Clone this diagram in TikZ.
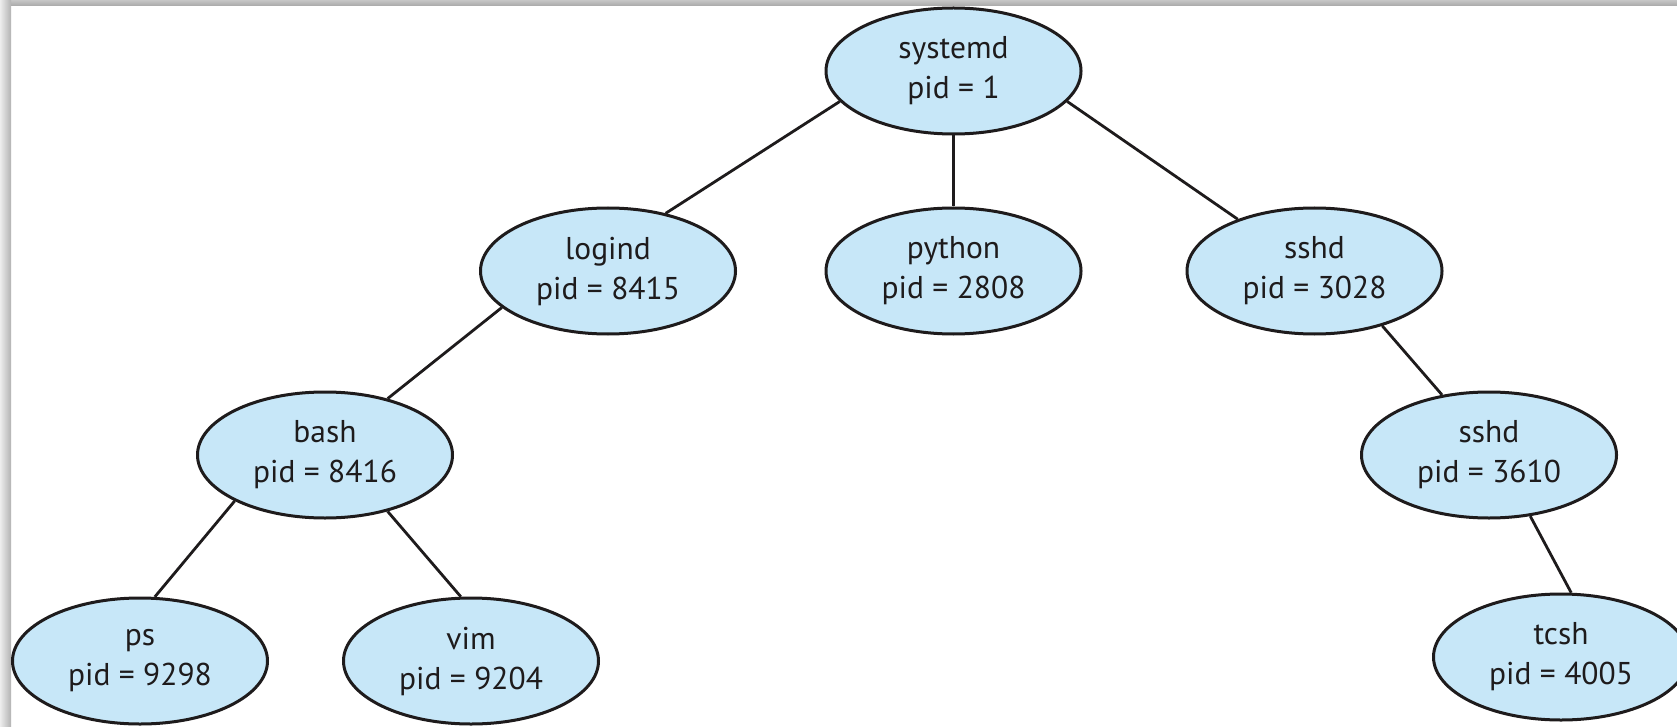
\documentclass[tikz,border=0pt]{standalone}
\usepackage{fontspec}
\setmainfont{PT Sans}
\usetikzlibrary{shapes.geometric}
\definecolor{procfill}{RGB}{199,231,248}
\definecolor{ink}{RGB}{30,27,28}
\tikzset{
  proc/.style={ellipse, draw=ink, line width=3pt, fill=procfill,
    minimum width=255pt, minimum height=126pt, inner sep=0pt,
    align=center, text=ink, font=\fontsize{31.5}{40}\selectfont},
  edge/.style={draw=ink, line width=2.8pt}
}
\begin{document}
\begin{tikzpicture}[x=1pt,y=-1pt]
\useasboundingbox (0,0) rectangle (1677,727);
\clip (0,0) rectangle (1677,727);
\fill[white] (0,0) rectangle (1677,727);
% frame shadow
\shade[top color=gray!45, bottom color=gray!68] (0,0) rectangle (1677,6);
\shade[left color=gray!14, right color=gray!60] (0,0) rectangle (11,727);
% nodes
\node[proc] (systemd) at (953.5,71) {systemd\\pid = 1};
\node[proc] (logind) at (608,271) {logind\\pid = 8415};
\node[proc] (python) at (953.5,271) {python\\pid = 2808};
\node[proc] (sshdA) at (1314.5,271) {sshd\\pid = 3028};
\node[proc] (bash) at (325,455) {bash\\pid = 8416};
\node[proc] (sshdB) at (1489,455) {sshd\\pid = 3610};
\node[proc] (ps) at (140,661) {ps\\pid = 9298};
\node[proc] (vim) at (471,661) {vim\\pid = 9204};
\node[proc] (tcsh) at (1561,657) {tcsh\\pid = 4005};
% edges
\draw[edge] (systemd.195) -- (logind.45);
\draw[edge] (systemd.south) -- (python.north);
\draw[edge] (systemd.345) -- (sshdA.146);
\draw[edge] (logind.199) -- (bash.42);
\draw[edge] (bash.207) -- (ps.77);
\draw[edge] (bash.318) -- (vim.99);
\draw[edge] (sshdA.321) -- (sshdB.128);
\draw[edge] (sshdB.304.5) -- (tcsh.81);
\end{tikzpicture}
\end{document}
